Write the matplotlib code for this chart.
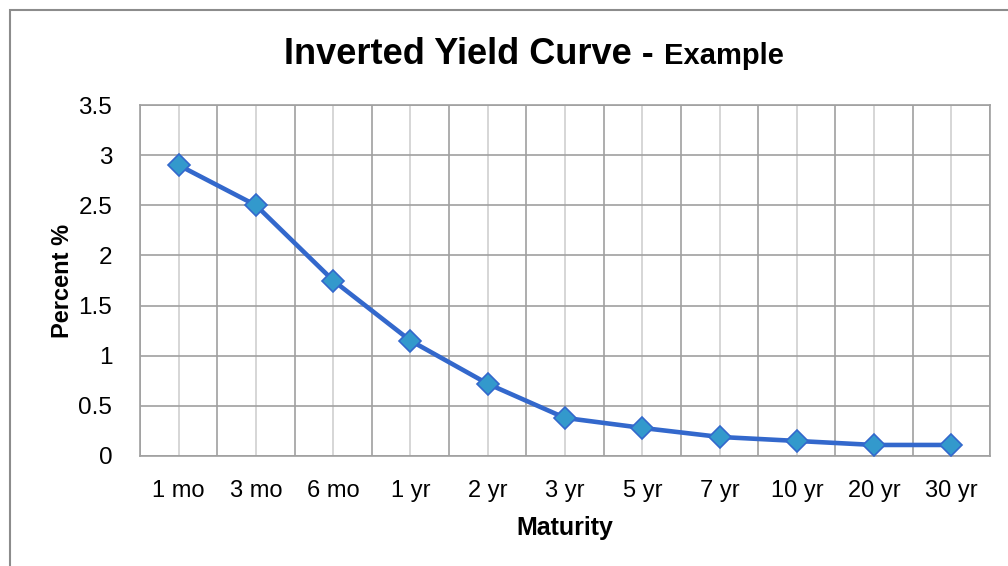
import matplotlib
matplotlib.use("Agg")
import matplotlib.pyplot as plt
import numpy as np
from matplotlib.patches import Rectangle

maturities = ["1 mo", "3 mo", "6 mo", "1 yr", "2 yr", "3 yr", "5 yr", "7 yr", "10 yr", "20 yr", "30 yr"]
yields = [2.9, 2.5, 1.75, 1.15, 0.72, 0.38, 0.28, 0.19, 0.15, 0.11, 0.11]
y_ticks = [0, 0.5, 1, 1.5, 2, 2.5, 3, 3.5]
y_labels = ["0", "0.5", "1", "1.5", "2", "2.5", "3", "3.5"]

plt.rcParams['font.family'] = ['Liberation Sans', 'DejaVu Sans']

fig = plt.figure(figsize=(10.08, 5.66), dpi=100)
# outer chart frame (partially visible)
fig.patches.append(Rectangle((10/1008, -0.1), 1.2, (566-10)/566 + 0.1, transform=fig.transFigure,
                             fill=False, edgecolor="#8c8c8c", linewidth=1.5))

ax = fig.add_axes([140/1008, (566-456)/566, 850/1008, 351/566])
x = np.arange(len(maturities))
ax.plot(x, yields, color="#3368CC", linewidth=3.3, marker="D", markersize=11.5,
        markerfacecolor="#3399CC", markeredgecolor="#3368CC", markeredgewidth=1.2, zorder=3)

ax.set_xlim(-0.5, len(maturities) - 0.5)
ax.set_ylim(0, 3.5)
ax.set_xticks(x)
ax.set_xticklabels(maturities, fontsize=17)
ax.set_xticks(np.arange(-0.5, len(maturities), 1.0), minor=True)
ax.set_yticks(y_ticks)
ax.set_yticklabels(y_labels, fontsize=17.5)
ax.tick_params(axis="both", which="both", length=0)
ax.tick_params(axis="x", pad=17)
ax.tick_params(axis="y", pad=20)
ax.grid(True, axis="x", which="major", color="#d0d0d0", linewidth=1.2)
ax.grid(True, axis="x", which="minor", color="#a0a0a0", linewidth=1.2)
ax.grid(True, axis="y", which="major", color="#a0a0a0", linewidth=1.2)
ax.set_axisbelow(True)
for s in ax.spines.values():
    s.set_color("#a0a0a0")
    s.set_linewidth(1.2)

ax.set_xlabel("Maturity", fontsize=18, fontweight="bold", labelpad=10)
ax.set_ylabel("Percent %", fontsize=17, fontweight="bold", labelpad=3)

# title with two sizes
t1 = fig.text(0, 0, "Inverted Yield Curve - ", fontsize=26, fontweight="bold")
fig.canvas.draw()
r = fig.canvas.get_renderer()
t2 = fig.text(0, 0, "Example", fontsize=21, fontweight="bold")
w1 = t1.get_window_extent(r).width
w2 = t2.get_window_extent(r).width
total = w1 + w2
cx = 534
x0 = cx - total / 2
ybase = 566 - 64
t1.set_position((x0 / 1008, ybase / 566))
t2.set_position(((x0 + w1) / 1008, ybase / 566))

fig.savefig("out.png", dpi=100)
